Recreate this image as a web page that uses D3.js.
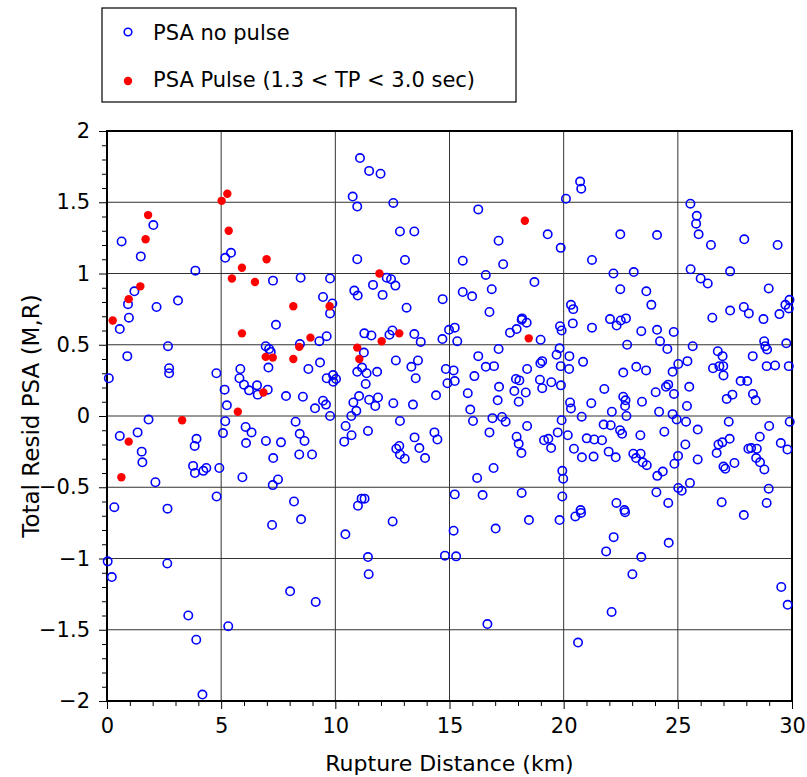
<!DOCTYPE html>
<html>
<head>
<meta charset="utf-8">
<script src="https://cdn.jsdelivr.net/npm/d3@7"></script>
<style>
  body { margin: 0; background: #fff; }
  svg { display: block; font-family: "DejaVu Sans", sans-serif; }
</style>
</head>
<body>
<svg width="807" height="777"></svg>
<script>
// --- data: [rupture distance km, total resid] ---
var noPulse = [
  [0.64,1.225],[2.03,1.34],[1.48,1.12],[3.87,1.02],[5.18,1.11],[5.43,1.145],[7.27,0.95],[8.48,0.97],
  [9.77,0.965],[1.20,0.875],[0.92,0.785],[2.17,0.765],[3.11,0.81],[9.46,0.835],[9.87,0.79],[9.77,0.72],
  [0.96,0.69],
  [11.08,1.81],[11.48,1.72],[11.98,1.70],[10.76,1.54],[10.96,1.47],[12.54,1.495],[12.83,1.295],[13.46,1.295],
  [10.96,1.10],[13.05,1.095],[12.25,0.97],[12.44,0.96],[12.63,0.915],[11.65,0.92],[10.83,0.88],[10.98,0.845],
  [12.07,0.85],[13.12,0.76],[14.70,0.82],[16.26,1.45],[17.15,1.23],[19.30,1.275],[19.87,1.18],[15.58,1.09],
  [17.35,1.065],[16.59,0.99],[18.72,0.94],[16.85,0.89],[15.58,0.87],[15.99,0.84],[16.75,0.73],[18.18,0.685],
  [20.10,1.525],
  [20.72,1.645],[20.77,1.595],[22.48,1.275],[24.09,1.27],[21.24,1.095],[22.18,1.00],[23.07,1.01],[22.48,0.89],
  [23.62,0.875],[23.84,0.78],[20.32,0.78],[20.42,0.75],[22.03,0.68],[22.50,0.67],[22.73,0.685],[25.55,1.49],
  [25.83,1.405],[25.80,1.35],[25.91,1.275],[26.45,1.20],[27.91,1.24],[29.37,1.20],[25.56,1.03],[26.00,0.965],
  [26.31,0.93],[27.29,1.015],[28.98,0.895],[27.29,0.74],[27.89,0.765],[28.11,0.72],[26.51,0.69],[28.75,0.68],
  [29.45,0.715],[29.71,0.78],[29.89,0.815],[29.86,0.755],
  [0.56,0.61],[7.40,0.64],[2.67,0.49],[0.89,0.42],[2.72,0.335],[2.72,0.30],[0.08,0.265],[4.79,0.30],
  [6.95,0.49],[7.10,0.47],[7.17,0.45],[7.07,0.34],[8.45,0.505],[9.30,0.525],[9.62,0.56],[9.33,0.375],
  [8.82,0.33],[9.90,0.287],[9.62,0.265],[9.91,0.24],[5.84,0.33],[5.80,0.265],[6.00,0.22],[6.22,0.18],
  [6.57,0.215],[6.60,0.15],[7.04,0.185],[5.15,0.185],[5.25,0.075],[7.84,0.14],[8.58,0.135],[9.46,0.107],
  [9.59,0.08],[9.11,0.054],[9.77,0.0],[1.82,-0.025],[5.18,-0.037],[6.07,-0.077],[6.33,-0.115],[5.08,-0.12],
  [6.09,-0.19],[6.96,-0.175],[7.62,-0.185],[8.26,-0.04],[8.44,-0.125],[8.65,-0.175],[8.42,-0.27],[8.98,-0.27],
  [7.28,-0.295],[0.56,-0.14],[1.34,-0.115],[1.52,-0.25],[1.55,-0.325],[2.12,-0.465],[3.92,-0.16],[3.84,-0.21],
  [3.77,-0.35],[3.85,-0.40],[4.22,-0.385],[4.35,-0.365],[4.92,-0.365],[5.93,-0.43],[7.49,-0.445],[7.26,-0.485],
  [4.80,-0.565],[8.19,-0.60],[0.32,-0.64],[2.65,-0.65],
  [7.23,-0.765],[8.50,-0.725],[0.03,-1.02],[0.21,-1.13],[2.64,-1.035],[8.02,-1.23],[9.14,-1.305],[3.56,-1.40],
  [5.31,-1.475],[3.91,-1.57],[4.18,-1.955],
  [11.27,0.58],[11.58,0.565],[12.37,0.57],[12.50,0.60],[13.46,0.575],[13.74,0.52],[14.69,0.54],[14.98,0.605],
  [15.23,0.62],[15.34,0.525],[11.25,0.445],[12.65,0.39],[13.62,0.39],[13.33,0.345],[13.52,0.265],[11.17,0.34],
  [10.96,0.31],[11.37,0.30],[11.83,0.31],[10.03,0.26],[11.33,0.225],[11.04,0.14],[10.79,0.095],[10.92,0.036],
  [10.70,0.0],[11.48,0.114],[11.87,0.13],[11.75,0.07],[12.54,0.09],[13.40,0.08],[14.41,0.145],[10.45,-0.07],
  [10.71,-0.135],[10.39,-0.18],[11.43,-0.105],[12.83,-0.035],[13.47,-0.15],[13.68,-0.225],[13.93,-0.295],[14.34,-0.115],
  [14.47,-0.165],[12.80,-0.21],[12.67,-0.23],[12.83,-0.27],[13.04,-0.30],[16.26,0.42],[17.15,0.47],[16.59,0.345],
  [16.95,0.35],[14.84,0.33],[15.18,0.32],[14.91,0.23],[15.23,0.245],[16.09,0.28],[15.80,0.16],[17.17,0.205],
  [17.11,0.11],[15.91,0.045],[16.03,-0.035],[16.88,-0.015],[17.30,-0.007],[17.46,-0.04],[16.75,-0.115],[18.40,-0.07],
  [17.94,-0.145],[18.03,-0.195],[18.15,-0.26],[19.14,-0.17],[19.33,-0.16],[19.45,-0.225],[19.74,-0.115],[16.93,-0.365],
  [16.21,-0.435],[17.65,0.585],[17.94,0.61],[18.16,0.675],[18.38,0.655],[18.99,0.535],[18.40,0.33],[17.91,0.26],
  [18.06,0.25],[17.84,0.175],[18.34,0.165],[18.03,0.10],[18.98,0.37],[19.06,0.385],[18.96,0.255],[19.06,0.195],
  [19.46,0.237],[19.84,0.63],[19.91,0.60],[19.69,0.43],[19.82,0.475],[19.87,0.35],[19.88,0.215],[19.91,-0.03],
  [18.16,-0.54],[16.45,-0.555],[15.23,-0.55],[10.99,-0.63],[11.15,-0.58],[11.28,-0.58],[19.94,-0.385],[19.98,-0.44],
  [19.94,-0.565],
  [10.44,-0.83],[12.51,-0.74],[11.43,-0.99],[11.46,-1.11],[14.80,-0.98],[15.29,-0.985],[15.18,-0.805],[17.02,-0.79],
  [16.66,-1.46],[18.48,-0.73],[19.82,-0.73],
  [20.40,0.65],[21.24,0.62],[22.32,0.635],[23.40,0.595],[24.09,0.605],[24.82,0.59],[24.22,0.525],[24.54,0.47],
  [22.78,0.50],[20.25,0.42],[20.24,0.33],[20.85,0.38],[22.61,0.305],[23.18,0.345],[23.61,0.32],[21.78,0.19],
  [20.28,0.095],[20.32,0.053],[21.21,0.09],[22.61,0.135],[22.71,0.11],[22.69,0.07],[22.75,0.0],[23.43,0.10],
  [22.11,0.03],[20.79,-0.005],[24.03,0.167],[24.48,0.205],[24.58,0.22],[24.83,0.155],[24.77,0.31],[25.02,0.365],
  [25.42,0.385],[25.65,0.49],[25.50,0.205],[25.40,0.07],[24.18,0.03],[24.77,0.013],[24.95,-0.024],[25.36,-0.04],
  [25.87,-0.095],[24.41,-0.11],[21.75,-0.06],[22.06,-0.065],[22.47,-0.10],[22.56,-0.125],[23.36,-0.135],[20.18,-0.135],
  [21.01,-0.157],[21.34,-0.165],[21.68,-0.17],[20.45,-0.23],[20.80,-0.29],[21.31,-0.285],[21.97,-0.25],[22.28,-0.29],
  [23.05,-0.265],[23.37,-0.265],[23.17,-0.295],[23.46,-0.325],[23.64,-0.345],[25.01,-0.28],[24.85,-0.335],[25.33,-0.20],
  [25.87,-0.305],[24.34,-0.39],[24.10,-0.42],[22.31,-0.61],[22.66,-0.66],[20.74,-0.66],[24.06,-0.535],[24.58,-0.61],
  [25.02,-0.505],[25.17,-0.525],[25.53,-0.47],[28.78,0.525],[28.83,0.49],[28.91,0.467],[29.75,0.51],[26.75,0.455],
  [26.96,0.42],[28.28,0.42],[26.54,0.335],[26.82,0.35],[26.99,0.35],[27.00,0.285],[28.89,0.35],[29.26,0.355],
  [29.86,0.35],[27.75,0.245],[28.04,0.245],[27.39,0.15],[27.14,0.12],[28.29,0.155],[28.41,0.11],[27.23,-0.04],
  [29.90,-0.04],[29.00,-0.07],[28.59,-0.145],[27.27,-0.16],[26.95,-0.185],[26.78,-0.20],[26.70,-0.26],[28.09,-0.23],
  [28.21,-0.225],[28.46,-0.23],[28.43,-0.295],[28.60,-0.325],[28.79,-0.375],[27.48,-0.33],[27.00,-0.355],[27.08,-0.37],
  [29.51,-0.19],[29.80,-0.235],[26.92,-0.605],[28.98,-0.51],[28.89,-0.61],
  [20.51,-0.705],[20.76,-0.68],[22.69,-0.675],[22.19,-0.85],[21.86,-0.95],[24.60,-0.89],[23.40,-0.99],[23.01,-1.11],
  [22.10,-1.375],[20.63,-1.59],[27.89,-0.695],[29.53,-1.20],[29.81,-1.325]
];

var pulse = [
  [5.27,1.56],[5.02,1.51],[1.80,1.41],[1.69,1.24],[5.33,1.30],[5.91,1.04],[6.99,1.10],[5.47,0.965],
  [6.48,0.94],[1.46,0.91],[0.95,0.82],[8.16,0.77],[9.75,0.77],[0.25,0.67],[18.30,1.37],[11.93,1.00],
  [5.91,0.58],[8.91,0.55],[8.42,0.485],[6.95,0.415],[7.26,0.41],[8.16,0.40],[6.85,0.165],[5.73,0.03],
  [3.29,-0.03],[0.95,-0.18],[0.63,-0.43],[12.80,0.58],[12.03,0.525],[10.96,0.48],[11.05,0.40],[18.47,0.545]
];

var xTicks = [0, 5, 10, 15, 20, 25, 30];
var yTicks = [-2, -1.5, -1, -0.5, 0, 0.5, 1, 1.5, 2];
var legendLabels = ["PSA no pulse", "PSA Pulse (1.3 < TP < 3.0 sec)"];

var svg = d3.select("svg");
var plotL = 107, plotR = 792, plotT = 131, plotB = 701;

var x = d3.scaleLinear().domain([0, 30]).range([plotL, plotR]);
var y = d3.scaleLinear().domain([-2, 2]).range([plotB, plotT]);

// grid
var grid = svg.append("g").attr("stroke", "#333").attr("stroke-width", 1);
grid.selectAll(".gx").data(xTicks.slice(1, -1)).enter().append("line")
  .attr("x1", d => x(d)).attr("x2", d => x(d)).attr("y1", plotT).attr("y2", plotB);
grid.selectAll(".gy").data(yTicks.slice(1, -1)).enter().append("line")
  .attr("x1", plotL).attr("x2", plotR).attr("y1", d => y(d)).attr("y2", d => y(d));

// minor ticks
var minorX = d3.range(0, 31, 1).filter(d => d % 5 !== 0);
var minorY = d3.range(-20, 21, 1).filter(d => d % 5 !== 0).map(d => d / 10);

svg.append("g").attr("transform", "translate(0," + plotB + ")")
  .call(d3.axisBottom(x).tickValues(minorX).tickSize(5).tickFormat(""))
  .call(g => g.select(".domain").remove());
svg.append("g").attr("transform", "translate(" + plotL + ",0)")
  .call(d3.axisLeft(y).tickValues(minorY).tickSize(5).tickFormat(""))
  .call(g => g.select(".domain").remove());

var fmt = function(d) { return String(d).replace("-", "\u2212"); };

svg.append("g").attr("transform", "translate(0," + plotB + ")")
  .call(d3.axisBottom(x).tickValues(xTicks).tickSize(8).tickPadding(9).tickFormat(fmt))
  .call(g => g.select(".domain").remove())
  .selectAll("text").attr("font-size", 21).attr("font-family", "DejaVu Sans").attr("fill", "#000");
svg.append("g").attr("transform", "translate(" + plotL + ",0)")
  .call(d3.axisLeft(y).tickValues(yTicks).tickSize(8).tickPadding(9).tickFormat(fmt))
  .call(g => g.select(".domain").remove())
  .selectAll("text").attr("font-size", 21).attr("font-family", "DejaVu Sans").attr("fill", "#000");

svg.selectAll(".tick line").attr("stroke", "#000").attr("stroke-width", 1);

// frame
svg.append("rect").attr("x", plotL).attr("y", plotT).attr("width", plotR - plotL).attr("height", plotB - plotT)
  .attr("fill", "none").attr("stroke", "#000").attr("stroke-width", 2);

// points
svg.append("g").selectAll("circle").data(noPulse).enter().append("circle")
  .attr("cx", d => x(d[0])).attr("cy", d => y(d[1])).attr("r", 4.2)
  .attr("fill", "none").attr("stroke", "#0000ff").attr("stroke-width", 1.6);
svg.append("g").selectAll("circle").data(pulse).enter().append("circle")
  .attr("cx", d => x(d[0])).attr("cy", d => y(d[1])).attr("r", 4.2)
  .attr("fill", "#ff0000");

// axis titles
svg.append("text").attr("x", (plotL + plotR) / 2).attr("y", 771).attr("text-anchor", "middle")
  .attr("font-size", 22).text("Rupture Distance (km)");
svg.append("text").attr("transform", "translate(39," + (plotT + plotB) / 2 + ") rotate(-90)")
  .attr("text-anchor", "middle").attr("font-size", 23).text("Total Resid PSA (M,R)");

// legend
var lg = svg.append("g");
lg.append("rect").attr("x", 102).attr("y", 8).attr("width", 414).attr("height", 94)
  .attr("fill", "#fff").attr("stroke", "#000").attr("stroke-width", 1.2);
lg.append("circle").attr("cx", 128).attr("cy", 32).attr("r", 3.8)
  .attr("fill", "none").attr("stroke", "#0000ff").attr("stroke-width", 1.6);
lg.append("circle").attr("cx", 128).attr("cy", 81).attr("r", 4.2).attr("fill", "#ff0000");
lg.selectAll("text").data(legendLabels).enter().append("text")
  .attr("x", 153).attr("y", (d, i) => 40 + i * 47)
  .attr("font-size", 21).text(d => d);
</script>
</body>
</html>
